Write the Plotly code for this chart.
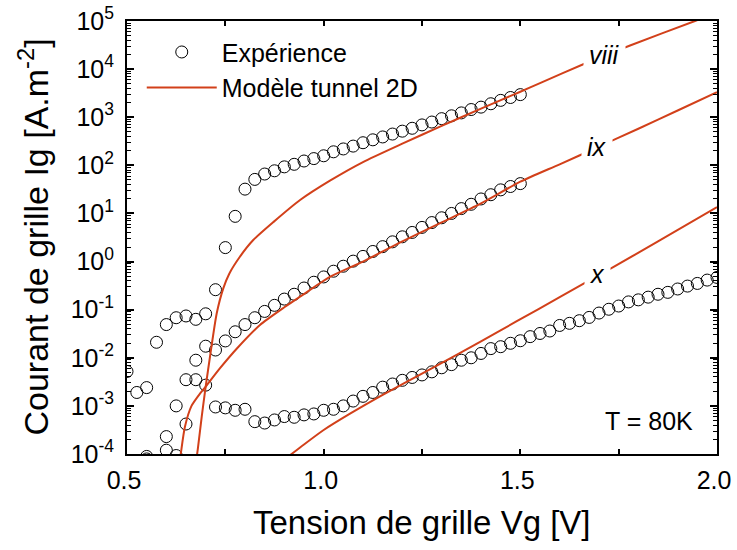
import math
import plotly.graph_objects as go

# ---------------- data ----------------
# Experimental gate current density (A/m^2) vs gate voltage (V)
vg_viii = [0.500, 0.525, 0.550, 0.575, 0.600, 0.625, 0.650, 0.675, 0.700, 0.725,
           0.750, 0.775, 0.800, 0.825, 0.850, 0.875, 0.900, 0.925, 0.950, 0.975,
           1.000, 1.025, 1.050, 1.075, 1.100, 1.125, 1.150, 1.175, 1.200, 1.225,
           1.250, 1.275, 1.300, 1.325, 1.350, 1.375, 1.400, 1.425, 1.450, 1.475, 1.500]
ig_viii = [5.2e-3, 1.9e-3, 2.4e-3, 2.1e-2, 4.9e-2, 6.8e-2, 7.4e-2, 6.3e-2, 8.2e-2, 0.26,
           1.95, 8.7, 32, 51, 66, 77, 93, 105, 123, 138,
           158, 191, 219, 251, 295, 339, 389, 447, 513, 589,
           692, 794, 933, 1070, 1230, 1445, 1620, 1905, 2240, 2570, 2950]

vg_ix = [0.550, 0.575, 0.600, 0.625, 0.650, 0.675, 0.700, 0.725, 0.750, 0.775,
         0.800, 0.825, 0.850, 0.875, 0.900, 0.925, 0.950, 0.975, 1.000, 1.025,
         1.050, 1.075, 1.100, 1.125, 1.150, 1.175, 1.200, 1.225, 1.250, 1.275,
         1.300, 1.325, 1.350, 1.375, 1.400, 1.425, 1.450, 1.475, 1.500]
ig_ix = [7.9e-5, 5.0e-5, 1.2e-4, 1.0e-3, 3.5e-3, 8.9e-3, 1.74e-2, 1.45e-2, 2.24e-2, 3.47e-2,
         4.9e-2, 6.8e-2, 9.2e-2, 0.123, 0.166, 0.209, 0.282, 0.372, 0.479, 0.63,
         0.80, 1.02, 1.28, 1.62, 2.04, 2.57, 3.27, 4.03, 5.13, 6.46,
         8.13, 10.0, 12.6, 15.5, 20.0, 24.5, 30.9, 36.3, 41.7]

vg_x = [0.550, 0.575, 0.600, 0.625, 0.650, 0.675, 0.700, 0.725, 0.750, 0.775,
        0.800, 0.825, 0.850, 0.875, 0.900, 0.925, 0.950, 0.975, 1.000, 1.025,
        1.050, 1.075, 1.100, 1.125, 1.150, 1.175, 1.200, 1.225, 1.250, 1.275,
        1.300, 1.325, 1.350, 1.375, 1.400, 1.425, 1.450, 1.475, 1.500, 1.525,
        1.550, 1.575, 1.600, 1.625, 1.650, 1.675, 1.700, 1.725, 1.750, 1.775,
        1.800, 1.825, 1.850, 1.875, 1.900, 1.925, 1.950, 1.975, 2.000]
ig_x = [8.9e-5, 5.0e-5, 2.3e-4, 9.3e-5, 4.2e-4, 3.5e-3, 2.7e-3, 9.5e-4, 9.1e-4, 8.1e-4,
        8.5e-4, 4.7e-4, 4.4e-4, 5.1e-4, 6.0e-4, 5.8e-4, 6.5e-4, 6.8e-4, 8.1e-4, 8.5e-4,
        1.0e-3, 1.26e-3, 1.58e-3, 1.9e-3, 2.45e-3, 2.85e-3, 3.4e-3, 3.9e-3, 4.4e-3, 5.1e-3,
        6.2e-3, 7.2e-3, 8.9e-3, 1.0e-2, 1.23e-2, 1.55e-2, 1.7e-2, 2.0e-2, 2.26e-2, 2.75e-2,
        3.2e-2, 3.6e-2, 4.7e-2, 5.2e-2, 5.9e-2, 6.9e-2, 8.5e-2, 0.102, 0.119, 0.145,
        0.160, 0.182, 0.209, 0.229, 0.269, 0.309, 0.351, 0.412, 0.468]

# 2D tunnel model curves
mv_viii = [0.673, 0.680, 0.690, 0.700, 0.711, 0.728, 0.745, 0.760, 0.787, 0.821,
           0.872, 0.940, 1.016, 1.100, 1.200, 1.300, 1.400, 1.500, 1.550, 1.663,
           1.779, 1.944, 2.000]
mi_viii = [5.0e-5, 1.26e-4, 6.0e-4, 2.5e-3, 1.05e-2, 8.3e-2, 0.28, 0.56, 1.26, 2.8,
           6.6, 19, 48, 117, 282, 660, 1510, 3390, 5130, 1.29e4,
           3.1e4, 1.0e5, 1.48e5]

mv_ix = [0.630, 0.637, 0.647, 0.664, 0.686, 0.703, 0.736, 0.780, 0.838, 0.900,
         0.940, 1.016, 1.100, 1.200, 1.300, 1.400, 1.500, 1.600, 1.700, 1.800,
         1.900, 2.000]
mi_ix = [4.0e-5, 1.05e-4, 3.6e-4, 1.0e-3, 1.82e-3, 2.7e-3, 6.0e-3, 1.58e-2, 4.8e-2, 0.112,
         0.186, 0.48, 1.0, 2.63, 6.5, 16.2, 45.7, 105, 245, 575,
         1380, 3310]

mv_x = [0.895, 0.950, 1.000, 1.067, 1.150, 1.270, 1.400, 1.491, 1.600, 1.735,
        1.850, 2.000]
mi_x = [7.1e-5, 1.58e-4, 3.16e-4, 6.9e-4, 1.7e-3, 5.75e-3, 2.19e-2, 5.75e-2, 0.182, 0.759,
        2.63, 13.5]

# curve labels: (text, Vg, Ig)
curve_labels = [("viii", 1.713, 1.95e4), ("ix", 1.696, 240), ("x", 1.695, 0.55)]

x_tickvals = [0.5, 1.0, 1.5, 2.0]
x_ticktext = ["0.5", "1.0", "1.5", "2.0"]
y_exponents = [-4, -3, -2, -1, 0, 1, 2, 3, 4, 5]

# ---------------- figure ----------------
FONT = "Liberation Sans, Arial, sans-serif"
RED = "#D2401A"

fig = go.Figure()

exp_sets = [(vg_viii, ig_viii), (vg_ix, ig_ix), (vg_x, ig_x)]
for i, (xv, yv) in enumerate(exp_sets):
    fig.add_trace(go.Scatter(
        x=xv, y=yv, mode="markers", name="Expérience",
        legendgroup="exp", showlegend=(i == 0),
        marker=dict(symbol="circle-open", size=12, color="black",
                    line=dict(width=1, color="black")),
    ))

model_sets = [(mv_viii, mi_viii), (mv_ix, mi_ix), (mv_x, mi_x)]
for i, (xv, yv) in enumerate(model_sets):
    fig.add_trace(go.Scatter(
        x=xv, y=yv, mode="lines", name="Modèle tunnel 2D",
        legendgroup="model", showlegend=(i == 0),
        line=dict(color=RED, width=2, shape="spline", smoothing=0.6),
    ))

for txt, xv, yv in curve_labels:
    fig.add_annotation(x=xv, y=math.log10(yv), yref="y", xref="x",
                       text="<i>%s</i>" % txt,
                       showarrow=False, bgcolor="white", borderpad=5,
                       font=dict(family=FONT, size=25, color="black"))

fig.add_annotation(x=1.0, y=0.0, xref="paper", yref="paper", xanchor="right",
                   yanchor="bottom", xshift=-22, yshift=17, showarrow=False,
                   text="T = 80K", font=dict(family=FONT, size=25, color="black"))

# axis titles
fig.add_annotation(x=0.5, y=0, xref="paper", yref="paper", xanchor="center",
                   yanchor="middle", yshift=-68, showarrow=False,
                   text="Tension de grille Vg [V]",
                   font=dict(family=FONT, size=33, color="black"))
fig.add_annotation(x=0, y=0.5, xref="paper", yref="paper", xanchor="center",
                   yanchor="middle", xshift=-94, showarrow=False, textangle=-90,
                   text="Courant de grille Ig [A.m<sup>-2</sup>]",
                   font=dict(family=FONT, size=34, color="black"))

minor_y = [m * 10 ** e for e in range(-4, 5) for m in range(2, 10)]

fig.update_xaxes(
    range=[0.5, 2.0], showline=True, linecolor="black", linewidth=2, mirror="ticks",
    ticks="inside", ticklen=5, tickwidth=1.5, tickcolor="black", automargin=False,
    tickvals=x_tickvals, ticktext=x_ticktext, showgrid=False, zeroline=False,
    tickfont=dict(family=FONT, size=25, color="black"), ticklabelstandoff=3,
    ticklabeloverflow="allow", ticklabelshift=-3,
    minor=dict(tickvals=[0.75, 1.25, 1.75], ticks="inside", ticklen=5,
               tickwidth=1.5, tickcolor="black", showgrid=False),
)
fig.update_yaxes(
    type="log", range=[-4, 5], showline=True, linecolor="black", linewidth=2,
    mirror="ticks", ticks="inside", ticklen=7, tickwidth=1.5, tickcolor="black",
    automargin=False, ticklabeloverflow="allow",
    tickvals=[10 ** e for e in y_exponents],
    ticktext=["10<sup>%d</sup>" % e for e in y_exponents],
    showgrid=False, zeroline=False,
    tickfont=dict(family=FONT, size=25, color="black"), ticklabelstandoff=6,
    minor=dict(tickvals=minor_y, ticks="inside", ticklen=4, tickwidth=1,
               tickcolor="black", showgrid=False),
)

fig.update_layout(
    width=737, height=550,
    margin=dict(l=127, r=20, t=21, b=96, autoexpand=False),
    plot_bgcolor="white", paper_bgcolor="white",
    font=dict(family=FONT, color="black"),
    showlegend=True,
    legend=dict(x=0.025, y=0.981, xanchor="left", yanchor="top",
                bgcolor="rgba(0,0,0,0)", itemwidth=70,
                font=dict(family=FONT, size=25, color="black"),
                tracegroupgap=0),
)

# remove the default page margin so the figure fills the window exactly
fig.write_html("out.html",
               config={"displayModeBar": False},
               post_script="document.body.style.margin='0';")
